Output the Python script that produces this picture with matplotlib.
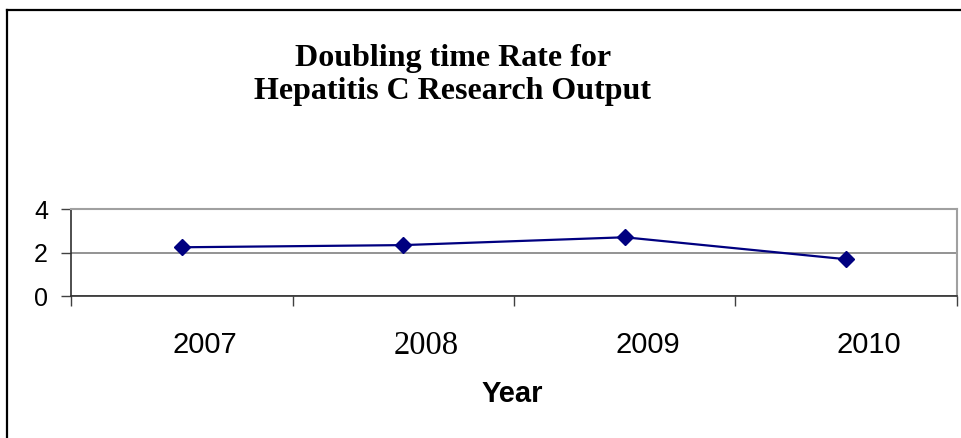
import matplotlib
matplotlib.use("Agg")
import matplotlib.pyplot as plt
import matplotlib.transforms as mtransforms
from matplotlib.lines import Line2D
import numpy as np

# data
years = ["2007", "2008", "2009", "2010"]
doubling_rate = [2.24, 2.34, 2.70, 1.69]
y_ticks = [0, 2, 4]

W, H = 962, 438
fig = plt.figure(figsize=(W / 100, H / 100), dpi=100)

# plot area in pixel coordinates of the reference
left, right, top, bottom = 71, 957, 209, 296
ax = fig.add_axes([left / W, (H - bottom) / H, (right - left) / W, (bottom - top) / H])

x = np.arange(len(years))
ax.plot(x, doubling_rate, color="#000080", linewidth=1.6,
        marker="D", markersize=8.5, markerfacecolor="#000080",
        markeredgecolor="#000080", zorder=3)

ax.set_xlim(-0.5, len(years) - 0.5)
ax.set_ylim(0, 4)

# y axis: ticks outside, gridlines at each major
ax.set_yticks(y_ticks)
ax.set_yticklabels([str(v) for v in y_ticks], fontsize=18, family="Liberation Sans")
ax.yaxis.grid(True, color="#808080", linewidth=1.2)
ax.tick_params(axis="y", direction="out", length=7.5, width=1, color="#404040", pad=9)

# x axis: tick marks at category boundaries, labels between them
ax.set_xticks(np.arange(len(years) + 1) - 0.5, minor=True)
ax.set_xticks(x)
ax.set_xticklabels(years, fontsize=21, family="Liberation Sans")
ax.tick_params(axis="x", which="major", length=0, pad=25)
ax.tick_params(axis="x", which="minor", direction="out", length=7.5, width=1, color="#404040")
offset = mtransforms.ScaledTranslation(23 / 100, 0, fig.dpi_scale_trans)
for i, lbl in enumerate(ax.get_xticklabels()):
    lbl.set_transform(lbl.get_transform() + offset)
    if years[i] == "2008":
        lbl.set_family("Liberation Serif")
        lbl.set_fontsize(23.5)

for side in ["left", "bottom"]:
    ax.spines[side].set_color("#303030")
    ax.spines[side].set_linewidth(1.2)
for side in ["top", "right"]:
    ax.spines[side].set_color("#a0a0a0")
    ax.spines[side].set_linewidth(1.5)

ax.set_xlabel("Year", fontsize=21, fontweight="bold", family="Liberation Sans")
ax.xaxis.set_label_coords(512 / W, (H - 380) / H, transform=fig.transFigure)

fig.text(453 / W, (H - 75) / H, "Doubling time Rate for\nHepatitis C Research Output",
         ha="center", va="center", fontsize=23, fontweight="bold",
         family="Liberation Serif", linespacing=1.15)

# chart-area border (only left and top edges visible in the crop)
fig.add_artist(Line2D([7 / W, 7 / W], [0, (H - 10) / H], transform=fig.transFigure,
                      color="black", linewidth=1.6))
fig.add_artist(Line2D([7 / W, 1], [(H - 10) / H, (H - 10) / H], transform=fig.transFigure,
                      color="black", linewidth=1.6))

fig.savefig("out.png", dpi=100)
